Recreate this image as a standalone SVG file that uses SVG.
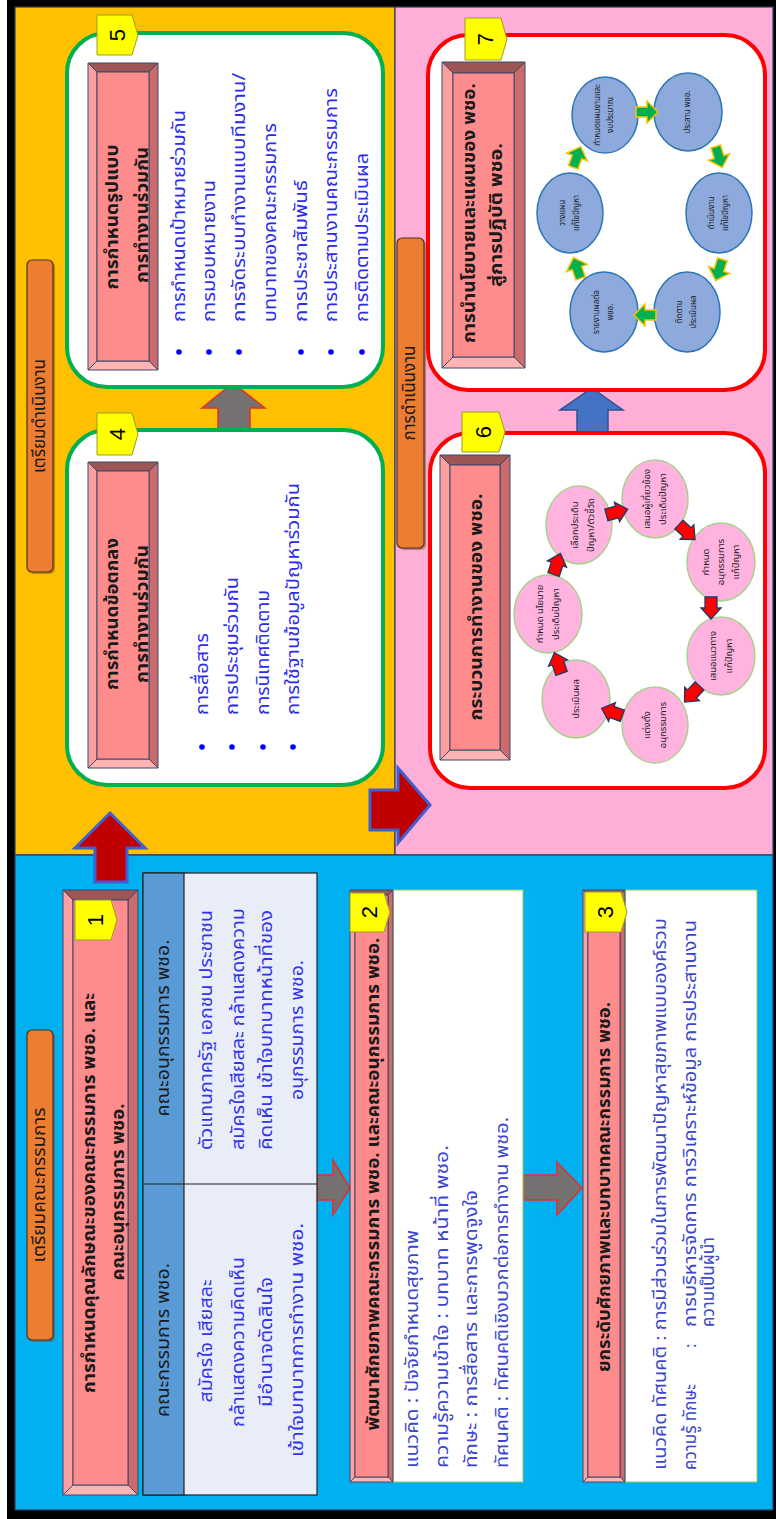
<svg xmlns="http://www.w3.org/2000/svg" width="776" height="1519" viewBox="0 0 776 1519">
<defs>
<style>
text{font-family:"Noto Sans Thai","Tahoma","Leelawadee UI","Garuda","Loma","Noto Sans",sans-serif}
.m{text-anchor:middle;dominant-baseline:central}
.s{dominant-baseline:central}
.tt{font-size:18px;font-weight:bold;fill:#1a1a1a}
.bl{font-size:18px;fill:#2b2bf0}
.ct{font-size:17px;fill:#3a46d0}
.ct2{font-size:18px;fill:#3a46d0}
.tb{font-size:18px;fill:#3333ee}
.th{font-size:17px;fill:#1a1a1a}
.lbl{font-size:17px;fill:#1a1a1a}
.num{font-family:"Liberation Sans",sans-serif;font-size:22px;fill:#000}
.pc{font-size:9.5px;fill:#222}
.bc{font-size:8px;fill:#1a1a1a}
.tag{fill:#FFFF00;stroke:#9a9a30;stroke-width:1}
.bt{fill:#9E5555;stroke:#3B4A6B;stroke-width:1}
.bb{fill:#FFB4B4;stroke:#3B4A6B;stroke-width:1}
.bL{fill:#FF9E9E;stroke:#3B4A6B;stroke-width:1}
.bR{fill:#CC6B6B;stroke:#3B4A6B;stroke-width:1}
.bi{fill:#FF8C8C;stroke:#3B4A6B;stroke-width:1}
.gbox{fill:#fff;stroke:#00B050;stroke-width:4}
.rbox{fill:#fff;stroke:#FF0000;stroke-width:4}
.wbox{fill:#fff;stroke:#92D050;stroke-width:1}
.lab{fill:#ED7D31;stroke:#4d3319;stroke-width:1.2}
.pcir{fill:#FFB3DE;stroke:#A9D18E;stroke-width:1.5}
.bcir{fill:#8EA9DB;stroke:#2E75B6;stroke-width:1.5}
.ra{fill:#FF0000;stroke:#1F3864;stroke-width:1.3}
.ga{fill:#00B050;stroke:#FFC000;stroke-width:1.5}
.dot{fill:#0000ff}
</style>
<polygon id="rarr" points="-11,-6 0,-6 0,-10 11,0 0,10 0,6 -11,6"/>
<polygon id="garr" points="-11,-5 0,-5 0,-11 11,0 0,11 0,5 -11,5"/>
</defs>

<!-- background -->
<rect x="0" y="0" width="776" height="1519" fill="#ffffff"/>
<rect x="7" y="0" width="769" height="1519" fill="#000000"/>
<g id="panels">
<rect x="15" y="7" width="380" height="848" fill="#FFC000" stroke="#2F3B5A" stroke-width="1.2"/>
<rect x="395" y="7" width="378" height="848" fill="#FFAFD7" stroke="#2F3B5A" stroke-width="1.2"/>
<rect x="15" y="855" width="758" height="655" fill="#00B0F0" stroke="#2F3B5A" stroke-width="1.2"/>
</g>

<!-- section labels -->
<g id="label-prep-committee">
<rect x="29" y="1032" width="26" height="310" rx="5" fill="#7a4a20" opacity="0.5"/>
<rect class="lab" x="27" y="1030" width="26" height="310" rx="5"/>
<text class="lbl m" transform="translate(40 1185) rotate(-90)" textLength="155" lengthAdjust="spacingAndGlyphs">เตรียมคณะกรรมการ</text>
</g>
<g id="label-prep-operation">
<rect x="29" y="262" width="26" height="312" rx="5" fill="#7a4a20" opacity="0.5"/>
<rect class="lab" x="27" y="260" width="26" height="312" rx="5"/>
<text class="lbl m" transform="translate(40 416) rotate(-90)">เตรียมดำเนินงาน</text>
</g>
<g id="label-operation">
<rect x="399" y="240" width="27" height="310" rx="5" fill="#7a4a20" opacity="0.5"/>
<rect class="lab" x="397" y="238" width="27" height="310" rx="5"/>
<text class="lbl m" transform="translate(410 393) rotate(-90)">การดำเนินงาน</text>
</g>

<!-- connectors -->
<g id="connectors">
<polygon points="233,383 265,408 250,408 250,432 218,432 218,408 202,408" fill="#767171" stroke="#E03030" stroke-width="1.5"/>
<polygon points="110,813 145,848 127,848 127,882 95,882 95,848 75,848" fill="#C00000" stroke="#3F5FD0" stroke-width="3"/>
<polygon points="430,805 398,843 398,830 370,830 370,790 398,790 398,768" fill="#C00000" stroke="#3F5FD0" stroke-width="3"/>
<polygon points="592,388 623,410 608,410 608,432 577,432 577,410 560,410" fill="#4472C4" stroke="#2F528F" stroke-width="1.5"/>
<polygon points="350,1188 333,1215 333,1200 317,1200 317,1175 333,1175 333,1160" fill="#767171" stroke="#E03030" stroke-width="1.5"/>
<polygon points="582,1188 557,1215 557,1200 523,1200 523,1175 557,1175 557,1162" fill="#767171" stroke="#E03030" stroke-width="1.5"/>
</g>

<!-- Node 5 -->
<g id="node5">
<rect class="gbox" x="67" y="33" width="316" height="354" rx="40"/>
<polygon class="bt" points="88,63 158,63 149,72 97,72"/>
<polygon class="bb" points="88,370 158,370 149,361 97,361"/>
<polygon class="bL" points="88,63 97,72 97,361 88,370"/>
<polygon class="bR" points="158,63 149,72 149,361 158,370"/>
<rect class="bi" x="97" y="72" width="52" height="289"/>
<text class="tt m" transform="translate(112 217) rotate(-90)" textLength="145" lengthAdjust="spacingAndGlyphs">การกำหนดรูปแบบ</text>
<text class="tt m" transform="translate(142 215) rotate(-90)" textLength="136" lengthAdjust="spacingAndGlyphs">การทำงานร่วมกัน</text>
<polygon class="tag" points="97,15 132,15 138,35 132,55 97,55"/>
<text class="num m" transform="translate(117 35) rotate(-90)">5</text>
<circle class="dot" cx="179" cy="352" r="2.8"/>
<circle class="dot" cx="209" cy="352" r="2.8"/>
<circle class="dot" cx="239" cy="352" r="2.8"/>
<circle class="dot" cx="301" cy="352" r="2.8"/>
<circle class="dot" cx="331" cy="352" r="2.8"/>
<circle class="dot" cx="362" cy="352" r="2.8"/>
<text class="bl s" transform="translate(179 322) rotate(-90)" textLength="212" lengthAdjust="spacingAndGlyphs">การกำหนดเป้าหมายร่วมกัน</text>
<text class="bl s" transform="translate(209 322) rotate(-90)" textLength="142" lengthAdjust="spacingAndGlyphs">การมอบหมายงาน</text>
<text class="bl s" transform="translate(239 322) rotate(-90)" textLength="249" lengthAdjust="spacingAndGlyphs">การจัดระบบทำงานแบบทีมงาน/</text>
<text class="bl s" transform="translate(270 322) rotate(-90)" textLength="199" lengthAdjust="spacingAndGlyphs">บทบาทของคณะกรรมการ</text>
<text class="bl s" transform="translate(301 322) rotate(-90)" textLength="142" lengthAdjust="spacingAndGlyphs">การประชาสัมพันธ์</text>
<text class="bl s" transform="translate(331 322) rotate(-90)" textLength="234" lengthAdjust="spacingAndGlyphs">การประสานงานคณะกรรมการ</text>
<text class="bl s" transform="translate(362 322) rotate(-90)" textLength="169" lengthAdjust="spacingAndGlyphs">การติดตามประเมินผล</text>
</g>

<!-- Node 4 -->
<g id="node4">
<rect class="gbox" x="67" y="430" width="316" height="355" rx="40"/>
<polygon class="bt" points="88,462 158,462 149,471 97,471"/>
<polygon class="bb" points="88,768 158,768 149,759 97,759"/>
<polygon class="bL" points="88,462 97,471 97,759 88,768"/>
<polygon class="bR" points="158,462 149,471 149,759 158,768"/>
<rect class="bi" x="97" y="471" width="52" height="288"/>
<text class="tt m" transform="translate(112 614) rotate(-90)" textLength="152" lengthAdjust="spacingAndGlyphs">การกำหนดข้อตกลง</text>
<text class="tt m" transform="translate(142 614) rotate(-90)" textLength="138" lengthAdjust="spacingAndGlyphs">การทำงานร่วมกัน</text>
<polygon class="tag" points="97,413 132,413 138,434 132,455 97,455"/>
<text class="num m" transform="translate(117 434) rotate(-90)">4</text>
<circle class="dot" cx="202" cy="747" r="2.8"/>
<circle class="dot" cx="232" cy="747" r="2.8"/>
<circle class="dot" cx="263" cy="747" r="2.8"/>
<circle class="dot" cx="293" cy="747" r="2.8"/>
<text class="bl s" transform="translate(202 715) rotate(-90)" textLength="82" lengthAdjust="spacingAndGlyphs">การสื่อสาร</text>
<text class="bl s" transform="translate(232 715) rotate(-90)" textLength="138" lengthAdjust="spacingAndGlyphs">การประชุมร่วมกัน</text>
<text class="bl s" transform="translate(263 715) rotate(-90)" textLength="125" lengthAdjust="spacingAndGlyphs">การนิเทศติดตาม</text>
<text class="bl s" transform="translate(293 715) rotate(-90)" textLength="232" lengthAdjust="spacingAndGlyphs">การใช้ฐานข้อมูลปัญหาร่วมกัน</text>
</g>

<!-- Node 7 -->
<g id="node7">
<rect class="rbox" x="428" y="35" width="337" height="355" rx="40"/>
<polygon class="bt" points="442,62 525,62 514,73 453,73"/>
<polygon class="bb" points="442,368 525,368 514,357 453,357"/>
<polygon class="bL" points="442,62 453,73 453,357 442,368"/>
<polygon class="bR" points="525,62 514,73 514,357 525,368"/>
<rect class="bi" x="453" y="73" width="61" height="284"/>
<text class="tt m" transform="translate(469 213) rotate(-90)" textLength="260" lengthAdjust="spacingAndGlyphs">การนำนโยบายและแผนของ พชอ.</text>
<text class="tt m" transform="translate(496 215) rotate(-90)" textLength="144" lengthAdjust="spacingAndGlyphs">สู่การปฏิบัติ พชอ.</text>
<polygon class="tag" points="465,18 501,18 507,39 501,60 465,60"/>
<text class="num m" transform="translate(485 39) rotate(-90)">7</text>
<g id="cycle7">
<ellipse class="bcir" cx="605" cy="115" rx="33" ry="38"/>
<ellipse class="bcir" cx="688" cy="112" rx="34" ry="39"/>
<ellipse class="bcir" cx="719" cy="213" rx="33" ry="40"/>
<ellipse class="bcir" cx="687" cy="312" rx="33" ry="40"/>
<ellipse class="bcir" cx="604" cy="312" rx="34" ry="40"/>
<ellipse class="bcir" cx="570" cy="213" rx="33" ry="40"/>
<text class="bc m" transform="translate(598 115) rotate(-90)">กำหนดแผนงานและ</text>
<text class="bc m" transform="translate(611 115) rotate(-90)">งบประมาณ</text>
<text class="bc m" transform="translate(688 112) rotate(-90)">ประสาน พชอ.</text>
<text class="bc m" transform="translate(712 213) rotate(-90)">ดำเนินงาน</text>
<text class="bc m" transform="translate(726 213) rotate(-90)">แก้ไขปัญหา</text>
<text class="bc m" transform="translate(680 312) rotate(-90)">ติดตาม</text>
<text class="bc m" transform="translate(694 312) rotate(-90)">ประเมินผล</text>
<text class="bc m" transform="translate(597 312) rotate(-90)">รายงานผลต่อ</text>
<text class="bc m" transform="translate(611 312) rotate(-90)">พชอ.</text>
<text class="bc m" transform="translate(563 213) rotate(-90)">วางแผน</text>
<text class="bc m" transform="translate(577 213) rotate(-90)">แก้ไขปัญหา</text>
<use href="#garr" class="ga" transform="translate(647 112) rotate(0)"/>
<use href="#garr" class="ga" transform="translate(719 157) rotate(73)"/>
<use href="#garr" class="ga" transform="translate(719 270) rotate(108)"/>
<use href="#garr" class="ga" transform="translate(645 315) rotate(180)"/>
<use href="#garr" class="ga" transform="translate(577 268) rotate(251)"/>
<use href="#garr" class="ga" transform="translate(577 157) rotate(290)"/>
</g>
</g>

<!-- Node 6 -->
<g id="node6">
<rect class="rbox" x="430" y="433" width="335" height="355" rx="40"/>
<polygon class="bt" points="440,455 510,455 500,465 450,465"/>
<polygon class="bb" points="440,760 510,760 500,750 450,750"/>
<polygon class="bL" points="440,455 450,465 450,750 440,760"/>
<polygon class="bR" points="510,455 500,465 500,750 510,760"/>
<rect class="bi" x="450" y="465" width="50" height="285"/>
<text class="tt m" transform="translate(476 607) rotate(-90)" textLength="227" lengthAdjust="spacingAndGlyphs">กระบวนการทำงานของ พชอ.</text>
<polygon class="tag" points="462,412 499,412 505,432 499,452 462,452"/>
<text class="num m" transform="translate(483 432) rotate(-90)">6</text>
<g id="cycle6">
<ellipse class="pcir" cx="579" cy="525" rx="33" ry="39"/>
<ellipse class="pcir" cx="655" cy="499" rx="33" ry="39"/>
<ellipse class="pcir" cx="721" cy="562" rx="34" ry="39"/>
<ellipse class="pcir" cx="721" cy="656" rx="34" ry="39"/>
<ellipse class="pcir" cx="655" cy="725" rx="33" ry="38"/>
<ellipse class="pcir" cx="576" cy="699" rx="34" ry="39"/>
<ellipse class="pcir" cx="548" cy="614" rx="34" ry="39"/>
<text class="pc m" transform="translate(575 525) rotate(-90)">เลือกประเด็น</text>
<text class="pc m" transform="translate(591 525) rotate(-90)">ปัญหา/ตัวชี้วัด</text>
<text class="pc m" transform="translate(647 499) rotate(-90)">เสนอผู้เกี่ยวข้อง</text>
<text class="pc m" transform="translate(663 499) rotate(-90)">ประเด็นปัญหา</text>
<text class="pc m" transform="translate(706 562) rotate(-90)">กำหนด</text>
<text class="pc m" transform="translate(721 562) rotate(-90)">อนุกรรมการ</text>
<text class="pc m" transform="translate(736 562) rotate(-90)">แก้ปัญหา</text>
<text class="pc m" transform="translate(713 656) rotate(-90)">เสนอแนวทาง</text>
<text class="pc m" transform="translate(729 656) rotate(-90)">แก้ปัญหา</text>
<text class="pc m" transform="translate(647 725) rotate(-90)">แต่งตั้ง</text>
<text class="pc m" transform="translate(663 725) rotate(-90)">อนุกรรมการ</text>
<text class="pc m" transform="translate(576 699) rotate(-90)">ประเมินผล</text>
<text class="pc m" transform="translate(540 614) rotate(-90)">กำหนด นโยบาย</text>
<text class="pc m" transform="translate(556 614) rotate(-90)">ประเด็นปัญหา</text>
<use href="#rarr" class="ra" transform="translate(617 512) rotate(-15)"/>
<use href="#rarr" class="ra" transform="translate(687 532) rotate(43)"/>
<use href="#rarr" class="ra" transform="translate(711 608) rotate(90)"/>
<use href="#rarr" class="ra" transform="translate(692 694) rotate(133)"/>
<use href="#rarr" class="ra" transform="translate(612 712) rotate(200)"/>
<use href="#rarr" class="ra" transform="translate(558 663) rotate(251)"/>
<use href="#rarr" class="ra" transform="translate(557 564) rotate(288)"/>
</g>
</g>

<!-- Node 1 -->
<g id="node1">
<polygon class="bt" points="63,890 138,890 128,900 73,900"/>
<polygon class="bb" points="63,1495 138,1495 128,1485 73,1485"/>
<polygon class="bL" points="63,890 73,900 73,1485 63,1495"/>
<polygon class="bR" points="138,890 128,900 128,1485 138,1495"/>
<rect class="bi" x="73" y="900" width="55" height="585"/>
<text class="tt m" transform="translate(89 1193) rotate(-90)" textLength="400" lengthAdjust="spacingAndGlyphs">การกำหนดคุณลักษณะของคณะกรรมการ พชอ. และ</text>
<text class="tt m" transform="translate(118 1192) rotate(-90)" textLength="177" lengthAdjust="spacingAndGlyphs">คณะอนุกรรมการ พชอ.</text>
<polygon class="tag" points="75,900 111,900 117,920 111,940 75,940"/>
<text class="num m" transform="translate(95 920) rotate(-90)">1</text>
</g>

<!-- Table -->
<g id="table1">
<rect x="143" y="873" width="174" height="622" fill="#E9EDF7" stroke="#222" stroke-width="1.2"/>
<rect x="143" y="873" width="41" height="622" fill="#5B9BD5" stroke="#222" stroke-width="1.2"/>
<line x1="143" y1="1184" x2="317" y2="1184" stroke="#222" stroke-width="1.2"/>
<text class="th m" transform="translate(164 1028) rotate(-90)" textLength="177" lengthAdjust="spacingAndGlyphs">คณะอนุกรรมการ พชอ.</text>
<text class="th m" transform="translate(164 1340) rotate(-90)" textLength="154" lengthAdjust="spacingAndGlyphs">คณะกรรมการ พชอ.</text>
<text class="tb m" transform="translate(206 1030) rotate(-90)" textLength="240" lengthAdjust="spacingAndGlyphs">ตัวแทนภาครัฐ เอกชน ประชาชน</text>
<text class="tb m" transform="translate(238 1029) rotate(-90)" textLength="242" lengthAdjust="spacingAndGlyphs">สมัครใจเสียสละ กล้าแสดงความ</text>
<text class="tb m" transform="translate(266 1030) rotate(-90)" textLength="240" lengthAdjust="spacingAndGlyphs">คิดเห็น เข้าใจบทบาทหน้าที่ของ</text>
<text class="tb m" transform="translate(297 1030) rotate(-90)" textLength="140" lengthAdjust="spacingAndGlyphs">อนุกรรมการ พชอ.</text>
<text class="tb m" transform="translate(206 1341) rotate(-90)" textLength="123" lengthAdjust="spacingAndGlyphs">สมัครใจ เสียสละ</text>
<text class="tb m" transform="translate(238 1342) rotate(-90)" textLength="170" lengthAdjust="spacingAndGlyphs">กล้าแสดงความคิดเห็น</text>
<text class="tb m" transform="translate(266 1342) rotate(-90)" textLength="130" lengthAdjust="spacingAndGlyphs">มีอำนาจตัดสินใจ</text>
<text class="tb m" transform="translate(297 1340) rotate(-90)" textLength="234" lengthAdjust="spacingAndGlyphs">เข้าใจบทบาทการทำงาน พชอ.</text>
</g>

<!-- Node 2 -->
<g id="node2">
<rect class="wbox" x="393" y="890" width="130" height="592"/>
<polygon class="bt" points="350,890 393,890 388,895 355,895"/>
<polygon class="bb" points="350,1482 393,1482 388,1477 355,1477"/>
<polygon class="bL" points="350,890 355,895 355,1477 350,1482"/>
<polygon class="bR" points="393,890 388,895 388,1477 393,1482"/>
<rect class="bi" x="355" y="895" width="33" height="582"/>
<text class="tt m" transform="translate(373 1184) rotate(-90)" textLength="493" lengthAdjust="spacingAndGlyphs">พัฒนาศักยภาพคณะกรรมการ พชอ. และคณะอนุกรรมการ พชอ.</text>
<polygon class="tag" points="350,893 384,893 390,912 384,932 350,932"/>
<text class="num m" transform="translate(369 912) rotate(-90)">2</text>
<text class="ct2 s" transform="translate(412 1468) rotate(-90)" textLength="238" lengthAdjust="spacingAndGlyphs">แนวคิด : ปัจจัยกำหนดสุขภาพ</text>
<text class="ct2 s" transform="translate(442 1468) rotate(-90)" textLength="323" lengthAdjust="spacingAndGlyphs">ความรู้ความเข้าใจ : บทบาท หน้าที่ พชอ.</text>
<text class="ct2 s" transform="translate(471 1468) rotate(-90)" textLength="278" lengthAdjust="spacingAndGlyphs">ทักษะ : การสื่อสาร และการพูดจูงใจ</text>
<text class="ct2 s" transform="translate(502 1468) rotate(-90)" textLength="351" lengthAdjust="spacingAndGlyphs">ทัศนคติ : ทัศนคติเชิงบวกต่อการทำงาน พชอ.</text>
</g>

<!-- Node 3 -->
<g id="node3">
<rect class="wbox" x="625" y="890" width="132" height="592"/>
<polygon class="bt" points="583,890 625,890 620,895 588,895"/>
<polygon class="bb" points="583,1482 625,1482 620,1477 588,1477"/>
<polygon class="bL" points="583,890 588,895 588,1477 583,1482"/>
<polygon class="bR" points="625,890 620,895 620,1477 625,1482"/>
<rect class="bi" x="588" y="895" width="32" height="582"/>
<text class="tt m" transform="translate(604 1187) rotate(-90)" textLength="370" lengthAdjust="spacingAndGlyphs">ยกระดับศักยภาพและบทบาทคณะกรรมการ พชอ.</text>
<polygon class="tag" points="585,892 621,892 627,912 621,932 585,932"/>
<text class="num m" transform="translate(605 912) rotate(-90)">3</text>
<text class="ct s" transform="translate(661 1470) rotate(-90)" textLength="552" lengthAdjust="spacingAndGlyphs">แนวคิด ทัศนคติ : การมีส่วนร่วมในการพัฒนาปัญหาสุขภาพแบบองค์รวม</text>
<text class="ct s" transform="translate(691 1470) rotate(-90)">ความรู้ ทักษะ<tspan x="122">:</tspan><tspan x="143" textLength="407" lengthAdjust="spacingAndGlyphs">การบริหารจัดการ การวิเคราะห์ข้อมูล การประสานงาน</tspan></text>
<text class="ct s" transform="translate(709 1327) rotate(-90)">ความเป็นผู้นำ</text>
</g>
</svg>
